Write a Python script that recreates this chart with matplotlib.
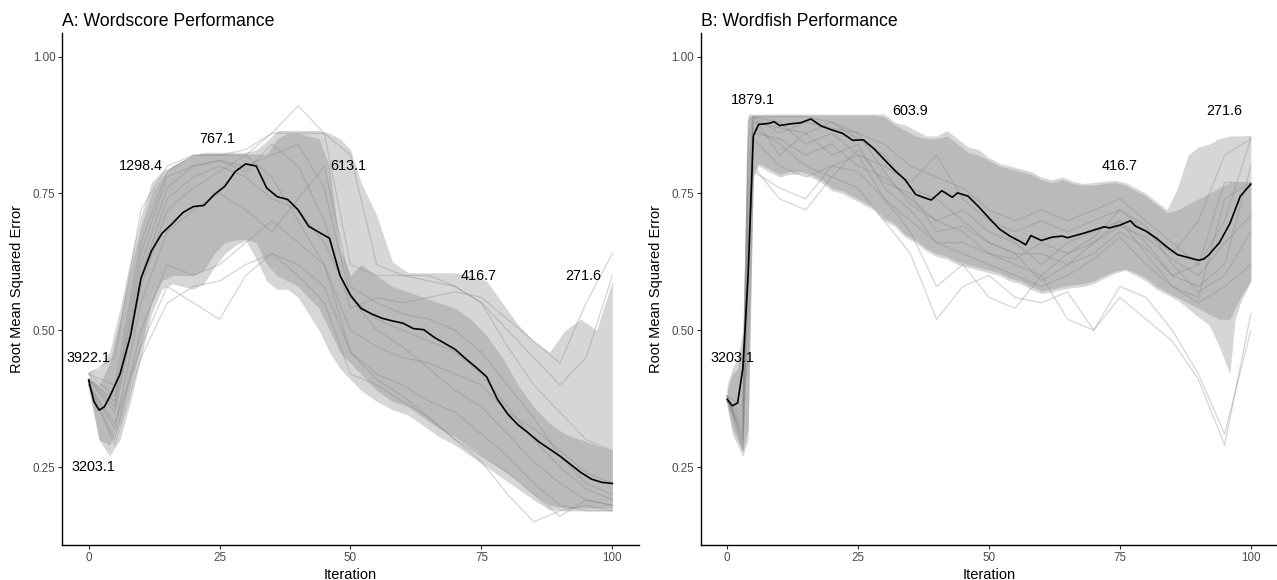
import matplotlib
matplotlib.use("Agg")
import matplotlib.pyplot as plt

plt.rcParams["font.family"] = ["Liberation Sans", "DejaVu Sans"]

# ---------------- Panel A: Wordscore ----------------
a_mean_x = [0, 1, 2, 3, 4, 6, 8, 10, 12, 14, 16, 18, 20, 22, 24, 26, 28, 30, 32, 34,
            36, 38, 40, 42, 44, 46, 48, 50, 52, 54, 56, 58, 60, 62, 64, 66, 68, 70,
            72, 74, 76, 78, 80, 82, 84, 86, 88, 90, 92, 94, 96, 98, 100]
a_mean_y = [0.409, 0.370, 0.354, 0.360, 0.378, 0.420, 0.490, 0.595, 0.645, 0.677,
            0.695, 0.715, 0.726, 0.728, 0.748, 0.763, 0.790, 0.804, 0.800, 0.760,
            0.744, 0.739, 0.720, 0.690, 0.679, 0.668, 0.600, 0.564, 0.540, 0.530,
            0.522, 0.517, 0.513, 0.503, 0.501, 0.487, 0.476, 0.465, 0.448, 0.432,
            0.415, 0.375, 0.347, 0.327, 0.312, 0.296, 0.283, 0.270, 0.255, 0.240,
            0.228, 0.222, 0.220]

a_band_x = [0, 2, 4, 6, 8, 10, 12, 14, 16, 18, 20, 22, 24, 26, 28, 30, 32, 34, 36,
            38, 40, 42, 44, 46, 48, 50, 52, 55, 58, 61, 64, 67, 70, 73, 76, 79, 82,
            85, 88, 91, 94, 97, 100]
a_ribbon_hi = [0.425, 0.430, 0.460, 0.540, 0.630, 0.710, 0.770, 0.790, 0.800, 0.810,
               0.820, 0.825, 0.825, 0.825, 0.825, 0.825, 0.830, 0.845, 0.865, 0.865,
               0.865, 0.865, 0.865, 0.860, 0.850, 0.830, 0.770, 0.710, 0.625, 0.605,
               0.605, 0.605, 0.605, 0.600, 0.590, 0.550, 0.510, 0.480, 0.460, 0.500,
               0.520, 0.500, 0.590]
a_ribbon_lo = [0.390, 0.300, 0.270, 0.300, 0.370, 0.450, 0.530, 0.575, 0.585, 0.580,
               0.575, 0.585, 0.615, 0.640, 0.655, 0.664, 0.630, 0.590, 0.575, 0.575,
               0.560, 0.530, 0.500, 0.460, 0.430, 0.410, 0.390, 0.370, 0.355, 0.345,
               0.325, 0.305, 0.290, 0.270, 0.250, 0.230, 0.210, 0.190, 0.172, 0.170,
               0.170, 0.170, 0.170]
a_core_hi = [0.415, 0.400, 0.440, 0.520, 0.610, 0.690, 0.750, 0.780, 0.800, 0.810,
             0.820, 0.822, 0.822, 0.822, 0.822, 0.822, 0.822, 0.822, 0.850, 0.860,
             0.860, 0.855, 0.850, 0.800, 0.650, 0.600, 0.620, 0.600, 0.580, 0.570,
             0.560, 0.550, 0.540, 0.520, 0.490, 0.450, 0.400, 0.360, 0.330, 0.310,
             0.300, 0.290, 0.280]
a_core_lo = [0.400, 0.300, 0.290, 0.330, 0.400, 0.470, 0.550, 0.590, 0.600, 0.600,
             0.600, 0.610, 0.640, 0.660, 0.665, 0.666, 0.660, 0.620, 0.600, 0.590,
             0.580, 0.560, 0.540, 0.500, 0.460, 0.440, 0.420, 0.390, 0.370, 0.360,
             0.340, 0.320, 0.305, 0.285, 0.265, 0.245, 0.225, 0.200, 0.180, 0.175,
             0.175, 0.175, 0.175]

a_run_x = [0, 5, 10, 15, 20, 25, 30, 35, 40, 45, 50, 55, 60, 65, 70, 75, 80, 85, 90, 95, 100]
a_runs = [
    [0.42, 0.45, 0.72, 0.80, 0.82, 0.82, 0.83, 0.86, 0.91, 0.86, 0.82, 0.62, 0.60, 0.60, 0.58, 0.55, 0.47, 0.40, 0.35, 0.30, 0.28],
    [0.41, 0.36, 0.60, 0.74, 0.78, 0.80, 0.78, 0.74, 0.72, 0.66, 0.56, 0.52, 0.50, 0.48, 0.46, 0.42, 0.36, 0.30, 0.25, 0.21, 0.19],
    [0.40, 0.30, 0.50, 0.62, 0.60, 0.62, 0.66, 0.70, 0.66, 0.62, 0.46, 0.42, 0.40, 0.37, 0.35, 0.31, 0.27, 0.22, 0.18, 0.17, 0.17],
    [0.40, 0.33, 0.47, 0.58, 0.55, 0.52, 0.60, 0.64, 0.60, 0.55, 0.42, 0.40, 0.37, 0.34, 0.30, 0.27, 0.24, 0.20, 0.16, 0.19, 0.18],
    [0.42, 0.40, 0.66, 0.79, 0.82, 0.82, 0.82, 0.86, 0.86, 0.86, 0.62, 0.60, 0.60, 0.59, 0.58, 0.55, 0.50, 0.45, 0.40, 0.45, 0.60],
    [0.41, 0.35, 0.58, 0.72, 0.76, 0.79, 0.82, 0.78, 0.70, 0.62, 0.50, 0.47, 0.45, 0.44, 0.42, 0.40, 0.35, 0.32, 0.28, 0.24, 0.22],
    [0.40, 0.32, 0.55, 0.68, 0.72, 0.75, 0.72, 0.68, 0.74, 0.80, 0.58, 0.55, 0.53, 0.52, 0.50, 0.46, 0.40, 0.34, 0.27, 0.22, 0.20],
    [0.41, 0.37, 0.62, 0.76, 0.80, 0.81, 0.80, 0.82, 0.84, 0.76, 0.56, 0.50, 0.47, 0.43, 0.39, 0.36, 0.31, 0.26, 0.22, 0.19, 0.18],
    [0.42, 0.38, 0.64, 0.78, 0.80, 0.81, 0.79, 0.84, 0.80, 0.70, 0.54, 0.56, 0.55, 0.56, 0.57, 0.56, 0.52, 0.48, 0.44, 0.55, 0.64],
    [0.40, 0.29, 0.45, 0.55, 0.58, 0.59, 0.62, 0.64, 0.62, 0.58, 0.46, 0.41, 0.38, 0.34, 0.30, 0.26, 0.20, 0.15, 0.17, 0.18, 0.17],
]
a_labels = ["3922.1", "3203.1", "1298.4", "767.1", "613.1", "416.7", "271.6"]
a_label_x = [0, 1, 10, 24.5, 49.5, 74.5, 94.5]
a_label_y = [0.45, 0.25, 0.80, 0.85, 0.80, 0.60, 0.60]

# ---------------- Panel B: Wordfish ----------------
b_mean_x = [0, 1, 2, 3, 4, 5, 6, 8, 9, 10, 12, 14, 16, 18, 20, 22, 24, 26, 28, 30,
            32, 34, 36, 38, 39, 41, 43, 44, 46, 48, 50, 52, 54, 56, 57, 58, 60, 62,
            64, 65, 68, 70, 72, 73, 75, 77, 78, 80, 82, 84, 86, 88, 90, 91, 92, 94,
            96, 98, 100]
b_mean_y = [0.374, 0.362, 0.367, 0.430, 0.600, 0.855, 0.876, 0.878, 0.881, 0.874,
            0.877, 0.879, 0.886, 0.873, 0.866, 0.860, 0.847, 0.848, 0.832, 0.812,
            0.792, 0.775, 0.748, 0.741, 0.738, 0.755, 0.743, 0.751, 0.745, 0.726,
            0.705, 0.685, 0.672, 0.662, 0.656, 0.673, 0.664, 0.670, 0.672, 0.669,
            0.677, 0.683, 0.689, 0.687, 0.692, 0.700, 0.690, 0.681, 0.668, 0.652,
            0.638, 0.633, 0.628, 0.630, 0.638, 0.660, 0.695, 0.745, 0.767]

b_band_x = [0, 1, 2, 3, 4, 5, 6, 8, 10, 12, 14, 16, 18, 20, 22, 24, 26, 28, 30, 32,
            34, 36, 38, 40, 42, 44, 46, 48, 50, 52, 54, 56, 58, 60, 62, 64, 66, 68,
            70, 72, 74, 76, 78, 80, 82, 84, 86, 88, 90, 92, 94, 96, 97, 98, 100]
b_ribbon_hi = [0.400, 0.430, 0.450, 0.500, 0.895, 0.895, 0.895, 0.895, 0.895, 0.895,
               0.895, 0.895, 0.895, 0.895, 0.895, 0.895, 0.895, 0.895, 0.895, 0.880,
               0.875, 0.865, 0.855, 0.855, 0.865, 0.850, 0.835, 0.830, 0.815, 0.805,
               0.800, 0.795, 0.790, 0.780, 0.775, 0.780, 0.772, 0.768, 0.770, 0.772,
               0.774, 0.770, 0.760, 0.750, 0.735, 0.720, 0.760, 0.820, 0.835, 0.840,
               0.850, 0.855, 0.855, 0.855, 0.856]
b_ribbon_lo = [0.360, 0.310, 0.290, 0.270, 0.300, 0.780, 0.800, 0.790, 0.780, 0.785,
               0.785, 0.780, 0.770, 0.755, 0.750, 0.740, 0.730, 0.720, 0.700, 0.690,
               0.670, 0.660, 0.645, 0.635, 0.630, 0.620, 0.615, 0.610, 0.605, 0.600,
               0.590, 0.585, 0.575, 0.567, 0.570, 0.575, 0.578, 0.580, 0.585, 0.595,
               0.604, 0.610, 0.600, 0.590, 0.575, 0.565, 0.555, 0.540, 0.524, 0.510,
               0.470, 0.420, 0.520, 0.550, 0.590]
b_core_hi = [0.390, 0.420, 0.430, 0.480, 0.890, 0.893, 0.893, 0.893, 0.893, 0.893,
             0.893, 0.893, 0.893, 0.893, 0.893, 0.893, 0.893, 0.893, 0.890, 0.875,
             0.865, 0.855, 0.850, 0.850, 0.855, 0.840, 0.825, 0.820, 0.810, 0.800,
             0.795, 0.790, 0.785, 0.775, 0.770, 0.775, 0.768, 0.765, 0.765, 0.768,
             0.770, 0.765, 0.755, 0.745, 0.730, 0.715, 0.720, 0.730, 0.740, 0.750,
             0.760, 0.770, 0.770, 0.770, 0.770]
b_core_lo = [0.365, 0.320, 0.300, 0.280, 0.320, 0.790, 0.805, 0.795, 0.785, 0.790,
             0.790, 0.785, 0.775, 0.760, 0.755, 0.745, 0.735, 0.725, 0.705, 0.695,
             0.675, 0.665, 0.650, 0.640, 0.635, 0.625, 0.620, 0.615, 0.610, 0.605,
             0.595, 0.590, 0.580, 0.572, 0.575, 0.580, 0.583, 0.585, 0.590, 0.600,
             0.608, 0.612, 0.605, 0.595, 0.580, 0.570, 0.560, 0.550, 0.540, 0.530,
             0.520, 0.520, 0.540, 0.560, 0.590]

b_run_x = [0, 3, 4, 5, 10, 15, 20, 25, 30, 35, 40, 45, 50, 55, 60, 65, 70, 75, 80, 85, 90, 95, 100]
b_runs = [
    [0.38, 0.30, 0.60, 0.80, 0.74, 0.72, 0.78, 0.76, 0.70, 0.64, 0.52, 0.58, 0.60, 0.56, 0.55, 0.57, 0.50, 0.56, 0.52, 0.48, 0.41, 0.29, 0.53],
    [0.37, 0.33, 0.88, 0.89, 0.89, 0.89, 0.88, 0.86, 0.84, 0.80, 0.78, 0.76, 0.72, 0.70, 0.72, 0.70, 0.72, 0.74, 0.70, 0.66, 0.62, 0.70, 0.85],
    [0.37, 0.35, 0.70, 0.86, 0.85, 0.82, 0.84, 0.80, 0.78, 0.74, 0.70, 0.72, 0.68, 0.66, 0.62, 0.66, 0.68, 0.70, 0.66, 0.60, 0.58, 0.62, 0.80],
    [0.38, 0.28, 0.55, 0.89, 0.82, 0.86, 0.82, 0.84, 0.76, 0.72, 0.66, 0.64, 0.62, 0.60, 0.58, 0.60, 0.63, 0.67, 0.62, 0.58, 0.56, 0.74, 0.77],
    [0.37, 0.31, 0.80, 0.88, 0.87, 0.86, 0.88, 0.85, 0.82, 0.76, 0.74, 0.70, 0.66, 0.64, 0.64, 0.62, 0.66, 0.69, 0.67, 0.63, 0.60, 0.66, 0.71],
    [0.38, 0.36, 0.45, 0.79, 0.76, 0.74, 0.80, 0.82, 0.74, 0.68, 0.58, 0.62, 0.56, 0.54, 0.60, 0.52, 0.50, 0.58, 0.56, 0.50, 0.42, 0.31, 0.50],
    [0.37, 0.34, 0.85, 0.89, 0.88, 0.84, 0.86, 0.82, 0.80, 0.77, 0.82, 0.74, 0.70, 0.68, 0.70, 0.68, 0.70, 0.72, 0.68, 0.64, 0.70, 0.82, 0.85],
    [0.38, 0.29, 0.62, 0.85, 0.80, 0.78, 0.80, 0.79, 0.74, 0.70, 0.66, 0.66, 0.64, 0.62, 0.60, 0.64, 0.66, 0.70, 0.64, 0.58, 0.55, 0.58, 0.62],
    [0.37, 0.32, 0.75, 0.89, 0.86, 0.88, 0.87, 0.86, 0.79, 0.73, 0.70, 0.68, 0.64, 0.63, 0.66, 0.64, 0.67, 0.72, 0.69, 0.62, 0.57, 0.60, 0.68],
    [0.38, 0.30, 0.66, 0.87, 0.84, 0.80, 0.78, 0.83, 0.77, 0.75, 0.68, 0.69, 0.66, 0.64, 0.59, 0.62, 0.64, 0.68, 0.65, 0.60, 0.62, 0.77, 0.77],
]
b_labels = ["3203.1", "1879.1", "603.9", "416.7", "271.6"]
b_label_x = [1, 5, 35, 75, 95]
b_label_y = [0.45, 0.92, 0.90, 0.80, 0.90]


def draw_panel(ax, title, band_x, rib_lo, rib_hi, core_lo, core_hi,
               run_x, runs, mean_x, mean_y, labels, lab_x, lab_y):
    ax.fill_between(band_x, rib_lo, rib_hi, color="#d6d6d6", lw=0, zorder=1)
    ax.fill_between(band_x, core_lo, core_hi, color="#bababa", lw=0, zorder=2)
    for run in runs:
        ax.plot(run_x, run, color="#888888", alpha=0.35, lw=0.9, zorder=3)
    ax.plot(mean_x, mean_y, color="black", lw=1.2, zorder=4)
    for txt, x, y in zip(labels, lab_x, lab_y):
        ax.text(x, y, txt, ha="center", va="center", fontsize=10.4,
                color="black", zorder=5)

    ax.set_xlim(-5, 105)
    ax.set_ylim(0.1075, 1.0425)
    ax.set_xticks([0, 25, 50, 75, 100])
    ax.set_yticks([0.25, 0.50, 0.75, 1.00])
    ax.set_yticklabels(["0.25", "0.50", "0.75", "1.00"])
    ax.tick_params(length=2.8, width=0.8, color="#333333", labelcolor="#4d4d4d",
                   labelsize=8.4, pad=2.2)
    for side in ["top", "right"]:
        ax.spines[side].set_visible(False)
    for side in ["left", "bottom"]:
        ax.spines[side].set_linewidth(1.0)
        ax.spines[side].set_color("black")
    ax.set_xlabel("Iteration", fontsize=10.5, labelpad=3)
    ax.set_ylabel("Root Mean Squared Error", fontsize=10.5)
    ax.yaxis.set_label_coords(-0.066, 0.5)
    ax.set_title(title, loc="left", fontsize=12.7, pad=5)


fig = plt.figure(figsize=(12.77, 5.8), dpi=100)
ax_a = fig.add_axes([0.0489, 0.0603, 0.4511, 0.8822])
ax_b = fig.add_axes([0.5489, 0.0603, 0.4511, 0.8822])

draw_panel(ax_a, "A: Wordscore Performance", a_band_x, a_ribbon_lo, a_ribbon_hi,
           a_core_lo, a_core_hi, a_run_x, a_runs, a_mean_x, a_mean_y,
           a_labels, a_label_x, a_label_y)
draw_panel(ax_b, "B: Wordfish Performance", b_band_x, b_ribbon_lo, b_ribbon_hi,
           b_core_lo, b_core_hi, b_run_x, b_runs, b_mean_x, b_mean_y,
           b_labels, b_label_x, b_label_y)

fig.savefig("out.png", dpi=100)
